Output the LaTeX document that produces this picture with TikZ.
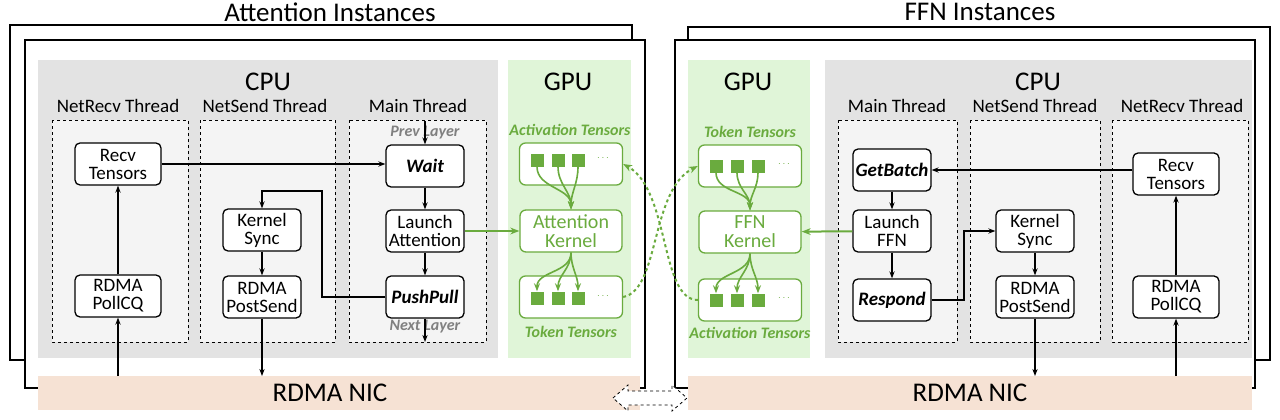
\documentclass[tikz,border=0pt]{standalone}
\usepackage{fontspec}
\setmainfont{Carlito}
\usetikzlibrary{arrows.meta}
\definecolor{gr}{HTML}{6AAB3E}
\definecolor{grl}{HTML}{E0F5D8}
\definecolor{cpug}{HTML}{E3E3E3}
\definecolor{nic}{HTML}{F6E2D4}
\tikzset{
 blk/.style={draw,line width=1.3pt,rounded corners=5pt,fill=white,minimum width=86pt,minimum height=42pt,align=center,font=\fontsize{19}{18}\selectfont,inner sep=1pt},
 sblk/.style={blk,minimum width=78pt},
 thr/.style={draw,dashed,thick,fill=white!60!cpug},
 arr/.style={-{Stealth[length=7pt]},line width=1.4pt},
 garr/.style={-{Stealth[length=9pt]},gr,line width=2pt},
 gbox/.style={draw=gr,line width=1.3pt,rounded corners=6pt,fill=white},
 sq/.style={fill=gr,minimum size=13pt,inner sep=0},
 lyr/.style={font=\fontsize{16}{16}\selectfont\bfseries\itshape,text=gray},
 glbl/.style={font=\fontsize{16}{16}\selectfont\bfseries\itshape,text=gr},
 hdr/.style={font=\fontsize{19}{19}\selectfont},
 ttl/.style={font=\fontsize{27}{27}\selectfont},
}
\begin{document}
\begin{tikzpicture}[x=1pt,y=-1pt]
\useasboundingbox (0,0) rectangle (1280,420);
\draw[line width=2pt,fill=white] (10,25) rectangle (632,360);
\draw[line width=2pt,fill=white] (25,40) rectangle (645,388);
\draw[line width=2pt,fill=white] (688,27) rectangle (1270,360);
\draw[line width=2pt,fill=white] (675,40) rectangle (1255,388);
\node[ttl] (t1) at (330,12) {Attention Instances};
\node[ttl] (t2) at (980,12) {FFN Instances};
\fill[cpug] (38,60) rectangle (498,358);
\fill[grl] (508,60) rectangle (631,358);
\fill[grl] (688,60) rectangle (810,358);
\fill[cpug] (825,60) rectangle (1252,358);
\fill[nic] (38,376) rectangle (640,410);
\fill[nic] (688,376) rectangle (1252,410);
\node[ttl] (nic1) at (330,393) {RDMA NIC};
\node[ttl] (nic2) at (970,393) {RDMA NIC};
\draw[dashed,thick,fill=white] (613,398) -- (628,385) -- (628,391) -- (672,391) -- (672,385) -- (687,398) -- (672,411) -- (672,405) -- (628,405) -- (628,411) -- cycle;
\node[ttl] at (268,82) {CPU};
\node[ttl] at (568,82) {GPU};
\node[ttl] at (748,82) {GPU};
\node[ttl] at (1038,82) {CPU};
\draw[thr] (52,120) rectangle (188,342);
\draw[thr] (200,120) rectangle (335,342);
\draw[thr] (349,120) rectangle (486,342);
\node[hdr] at (118,106) {NetRecv Thread};
\node[hdr] at (265,106) {NetSend Thread};
\node[hdr] at (418,106) {Main Thread};
\draw[thr] (838,120) rectangle (957,342);
\draw[thr] (970,120) rectangle (1100,342);
\draw[thr] (1112,120) rectangle (1248,342);
\node[hdr] at (897,106) {Main Thread};
\node[hdr] at (1035,106) {NetSend Thread};
\node[hdr] at (1182,106) {NetRecv Thread};
% left nodes
\node[blk] (rt) at (118,164) {Recv\\Tensors};
\node[blk] (pq) at (118,296) {RDMA\\PollCQ};
\node[sblk] (ks) at (262,230) {Kernel\\Sync};
\node[sblk] (ps) at (262,297) {RDMA\\PostSend};
\node[sblk] (wt) at (425,166) {\bfseries\itshape Wait};
\node[sblk] (la) at (425,231) {Launch\\Attention};
\node[sblk] (pp) at (425,297) {\bfseries\itshape PushPull};
\node[lyr] (pl) at (425,133) {Prev Layer};
\node[lyr] (nl) at (425,327) {Next Layer};
\coordinate (pt) at (425,121);
\coordinate (nb) at (425,342);
\coordinate (n1a) at (118,376);
\coordinate (n1b) at (262,376);
\draw[arr] (rt) -- (wt.west |- rt);
\draw[arr] (pq) -- (rt);
\draw[arr] (n1a) -- (pq);
\draw[arr] (ps) -- (n1b);
\draw[arr] (ks) -- (ps);
\draw[arr] (pp.west) -- (322,297) -- (322,191) -- (262,191) -- (ks.north);
\draw[arr] (pt) -- (wt);
\draw[arr] (wt) -- (la);
\draw[arr] (la) -- (pp);
\draw[arr] (pp) -- (nb);
% left GPU
\node[glbl] at (570,130) {Activation Tensors};
\node[gbox,minimum width=103pt,minimum height=42pt] (ab1) at (571,164) {};
\node[gbox,minimum width=102pt,minimum height=42pt,font=\fontsize{20}{19}\selectfont,text=gr,align=center,inner sep=1pt] (ak) at (571,231) {Attention\\Kernel};
\node[gbox,minimum width=103pt,minimum height=42pt] (ab2) at (571,297) {};
\node[glbl] at (571,332) {Token Tensors};
\foreach \i/\x in {1/537,2/558,3/578}{
 \node[sq] (as\i) at (\x,160) {};
 \node[sq] (at\i) at (\x,298) {};
 \draw[garr,-{Stealth[length=8pt]},line width=1.6pt] (as\i.south) to[out=-90,in=90] (ak.north);
 \draw[garr,-{Stealth[length=8pt]},line width=1.6pt] (ak.south) to[out=-90,in=90] (at\i.north);
}
\node[text=gr] at (603,158) {$\cdots$};
\node[text=gr] at (603,296) {$\cdots$};
\draw[garr] (la) -- (ak);
% right nodes
\node[sblk] (gb) at (892,170) {\bfseries\itshape GetBatch};
\node[sblk] (lf) at (892,231) {Launch\\FFN};
\node[sblk] (rs) at (892,300) {\bfseries\itshape Respond};
\node[sblk] (ks2) at (1035,231) {Kernel\\Sync};
\node[sblk] (ps2) at (1035,297) {RDMA\\PostSend};
\node[blk] (rt2) at (1176,174) {Recv\\Tensors};
\node[blk] (pq2) at (1176,297) {RDMA\\PollCQ};
\coordinate (n2a) at (1035,376);
\coordinate (n2b) at (1176,376);
\draw[arr] (rt2.west |- gb) -- (gb);
\draw[arr] (gb) -- (lf);
\draw[arr] (lf) -- (rs);
\draw[arr] (rs.east) -- (964,300) -- (964,231) -- (ks2.west);
\draw[arr] (ks2) -- (ps2);
\draw[arr] (ps2) -- (n2a);
\draw[arr] (n2b) -- (pq2);
\draw[arr] (pq2) -- (rt2);
% right GPU
\node[glbl] at (750,132) {Token Tensors};
\node[gbox,minimum width=103pt,minimum height=42pt] (fb1) at (750,166) {};
\node[gbox,minimum width=102pt,minimum height=42pt,font=\fontsize{20}{19}\selectfont,text=gr,align=center,inner sep=1pt] (fk) at (750,232) {FFN\\Kernel};
\node[gbox,minimum width=103pt,minimum height=42pt] (fb2) at (750,300) {};
\node[glbl] at (750,333) {Activation Tensors};
\foreach \i/\x in {1/716,2/737,3/758}{
 \node[sq] (fs\i) at (\x,166) {};
 \node[sq] (ft\i) at (\x,300) {};
 \draw[garr,-{Stealth[length=8pt]},line width=1.6pt] (fs\i.south) to[out=-90,in=90] (fk.north);
 \draw[garr,-{Stealth[length=8pt]},line width=1.6pt] (fk.south) to[out=-90,in=90] (ft\i.north);
}
\node[text=gr] at (784,164) {$\cdots$};
\node[text=gr] at (784,298) {$\cdots$};
\draw[garr] (lf) -- (fk);
\draw[garr,dashed] (ab2.east) .. controls (660,290) and (650,190) .. (fb1.west);
\draw[garr,dashed] (fb2.west) .. controls (660,300) and (670,190) .. (ab1.east);
\end{tikzpicture}
\end{document}
